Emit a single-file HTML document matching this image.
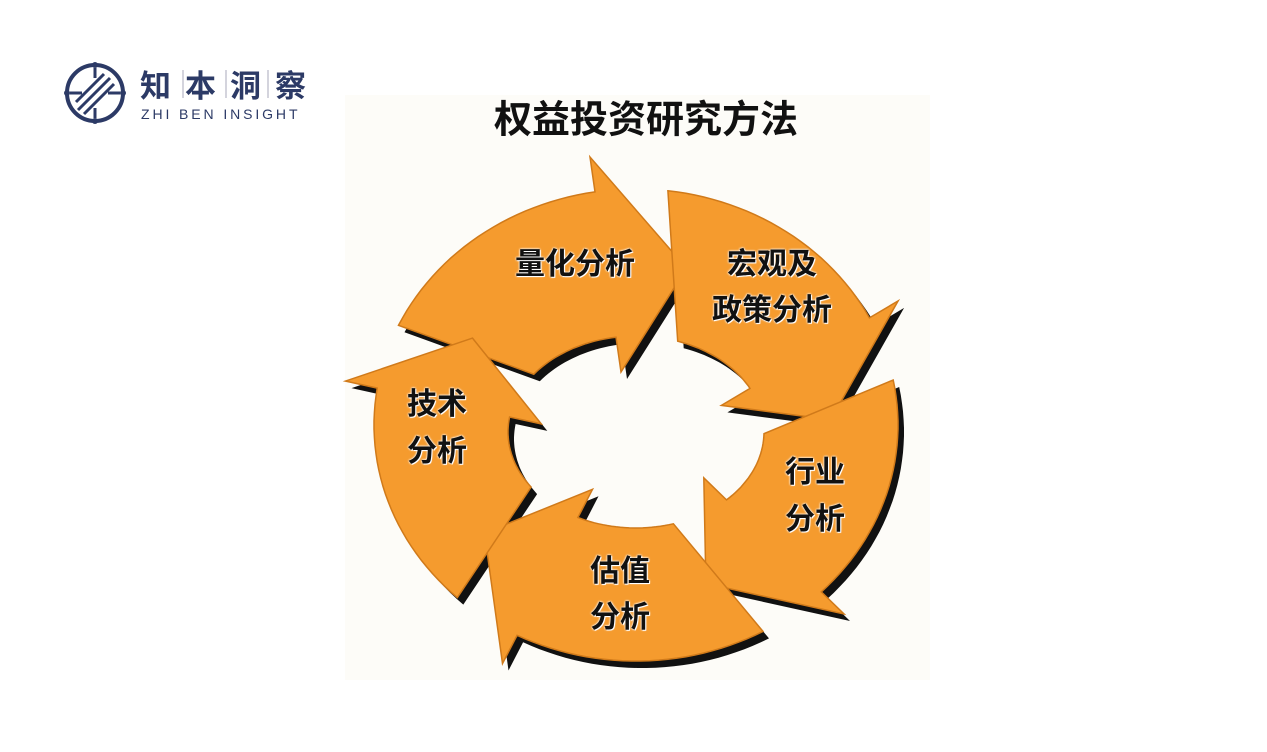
<!DOCTYPE html>
<html><head><meta charset="utf-8">
<style>
html,body{margin:0;padding:0;background:#fff;}
#wrap{position:relative;width:1267px;height:752px;overflow:hidden;background:#fff;font-family:"Liberation Sans","Noto Sans CJK SC",sans-serif;}
.t{position:absolute;font-weight:bold;color:#111;font-size:30px;line-height:1;text-align:center;white-space:nowrap;
 text-shadow:0 0 2px #fff,0 0 2px #fff,1px 1px 0 #fff;transform:translate(-50%,-50%);}
</style></head><body>
<div id="wrap">
<div style="position:absolute;left:345px;top:95px;width:585px;height:585px;background:#fdfcf8;"></div>
<svg width="1267" height="752" style="position:absolute;left:0;top:0">
 <g id="arrows"></g>
 <g fill="none" stroke="#2c3a66" stroke-width="4">
  <circle cx="95" cy="93" r="28"/>
  <path d="M78 110 L110 78 M84 114 L114 84 M76 102 L104 74" stroke-width="3"/>
  <path d="M70 93 H82 M108 93 H120 M95 68 V78 M95 108 V118" stroke-width="3"/>
 </g>
 <g fill="#2c3a66"><circle cx="67" cy="93" r="3"/><circle cx="123" cy="93" r="3"/><circle cx="95" cy="65" r="3"/><circle cx="95" cy="121" r="3"/></g>
 <g stroke="#aab" stroke-width="1"><line x1="183" y1="70" x2="183" y2="98"/><line x1="226" y1="70" x2="226" y2="98"/><line x1="268" y1="70" x2="268" y2="98"/></g>
</svg>
<div style="position:absolute;left:140px;top:66px;font-size:31px;font-weight:bold;color:#2c3a66;letter-spacing:14px;font-family:'Noto Sans CJK SC',sans-serif;line-height:36px;">知本洞察</div>
<div style="position:absolute;left:141px;top:106px;font-size:14px;color:#2c3a66;letter-spacing:2.9px;line-height:16px;">ZHI BEN INSIGHT</div>
<div style="position:absolute;left:646px;top:116px;transform:translate(-50%,-50%);font-size:38px;font-weight:bold;color:#111;white-space:nowrap;font-family:'Noto Sans CJK SC',sans-serif;">权益投资研究方法</div>
<div class="t" style="left:575px;top:265px">量化分析</div>
<div class="t" style="left:772px;top:265px">宏观及</div>
<div class="t" style="left:772px;top:311px">政策分析</div>
<div class="t" style="left:437px;top:405px">技术</div>
<div class="t" style="left:437px;top:452px">分析</div>
<div class="t" style="left:815px;top:473px">行业</div>
<div class="t" style="left:815px;top:520px">分析</div>
<div class="t" style="left:620px;top:572px">估值</div>
<div class="t" style="left:620px;top:618px">分析</div>
</div>
<script>
(function(){
var cx=636,cy=425;
function P(a,t){ // t: 0 inner .. 1 outer, can exceed
 var rx=128+t*(262-128), ry=96+t*(236-96), ccy=432+t*(425-432);
 a=a*Math.PI/180;return (cx+rx*Math.sin(a)).toFixed(1)+","+(ccy-ry*Math.cos(a)).toFixed(1);}
function arrow(f){
 var pts=[],i;
 for(i=0;i<=56;i+=2)pts.push(P(f+i,1));
 pts.push(P(f+56,1.24));pts.push(P(f+80,0.5));pts.push(P(f+56,-0.24));
 for(i=56;i>=12;i-=2)pts.push(P(f+i,0));
 return "M"+pts.join(" L")+" Z";
}
var s="";
var fs=[-65,7,79,151,223];
fs.forEach(function(f){s+='<path d="'+arrow(f)+'" fill="#111" transform="translate(6,7)"/>';});
fs.forEach(function(f){s+='<path d="'+arrow(f)+'" fill="#F59B2E" stroke="#d07a1a" stroke-width="1.5"/>';});
document.getElementById("arrows").innerHTML=s;
})();
</script>
</body></html>
